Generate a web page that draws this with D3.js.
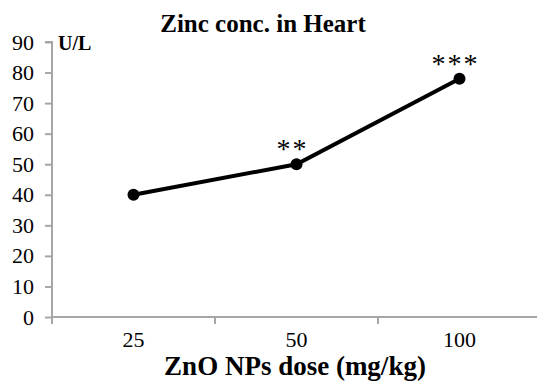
<!DOCTYPE html>
<html>
<head>
<meta charset="utf-8">
<script src="https://cdn.jsdelivr.net/npm/d3@7"></script>
<style>
  body { margin: 0; background: #fff; }
  svg { display: block; font-family: "Liberation Serif", "Times New Roman", serif; }
</style>
</head>
<body>
<svg id="chart" width="537" height="382"></svg>
<script>
// --- Data ---
const doses = ["25", "50", "100"];
const zinc = [40, 50, 78];
const marks = ["", "**", "***"];
const yTicks = [0, 10, 20, 30, 40, 50, 60, 70, 80, 90];

const svg = d3.select("#chart");

// --- Scales ---
const x = d3.scaleBand().domain(doses).range([52, 541]);
const y = d3.scaleLinear().domain([0, 90]).range([317, 42]);

// --- Axes ---
const yAxis = svg.append("g")
    .attr("transform", "translate(52,0)")
    .call(d3.axisLeft(y).tickValues(yTicks).tickSize(7).tickPadding(11));

const xAxis = svg.append("g")
    .attr("transform", "translate(0,317)")
    .call(d3.axisBottom(x).tickSize(0).tickPadding(14));

// category boundary ticks like Excel
xAxis.selectAll(".sep")
    .data([0, 1, 2])
    .enter()
    .append("line")
    .attr("x1", i => 52 + i * x.step())
    .attr("x2", i => 52 + i * x.step())
    .attr("y1", 0)
    .attr("y2", 7);

[yAxis, xAxis].forEach(g => {
    g.select(".domain").attr("stroke", "#a6a6a6").attr("stroke-width", 2);
    g.selectAll("line").attr("stroke", "#a6a6a6").attr("stroke-width", 2);
    g.selectAll("text")
        .attr("font-family", "Liberation Serif, serif")
        .attr("font-size", 22)
        .attr("fill", "#000");
});
yAxis.select(".domain").attr("d", "M-7,42H0V317");
xAxis.select(".domain").attr("d", "M52,0H541");

// --- Line + markers ---
const pts = doses.map((d, i) => ({dose: d, v: zinc[i], m: marks[i]}));

svg.append("path")
    .datum(pts)
    .attr("fill", "none")
    .attr("stroke", "#000")
    .attr("stroke-width", 4)
    .attr("d", d3.line().x(d => x(d.dose) + x.bandwidth() / 2).y(d => y(d.v)));

svg.selectAll("circle.pt")
    .data(pts)
    .enter()
    .append("circle")
    .attr("class", "pt")
    .attr("cx", d => x(d.dose) + x.bandwidth() / 2)
    .attr("cy", d => y(d.v))
    .attr("r", 6)
    .attr("fill", "#000");

svg.selectAll("text.sig")
    .data(pts)
    .enter()
    .append("text")
    .attr("class", "sig")
    .attr("x", d => x(d.dose) + x.bandwidth() / 2 - 4)
    .attr("y", d => y(d.v) - 6)
    .attr("text-anchor", "middle")
    .attr("font-size", 28)
    .attr("letter-spacing", 2)
    .text(d => d.m);

// --- Titles ---
svg.append("text")
    .attr("x", 263)
    .attr("y", 32)
    .attr("text-anchor", "middle")
    .attr("font-weight", "bold")
    .attr("font-size", 25)
    .text("Zinc conc. in Heart");

svg.append("text")
    .attr("x", 58)
    .attr("y", 50)
    .attr("font-weight", "bold")
    .attr("font-size", 20)
    .text("U/L");

svg.append("text")
    .attr("x", 295)
    .attr("y", 375)
    .attr("text-anchor", "middle")
    .attr("font-weight", "bold")
    .attr("font-size", 27)
    .text("ZnO NPs dose (mg/kg)");
</script>
</body>
</html>
